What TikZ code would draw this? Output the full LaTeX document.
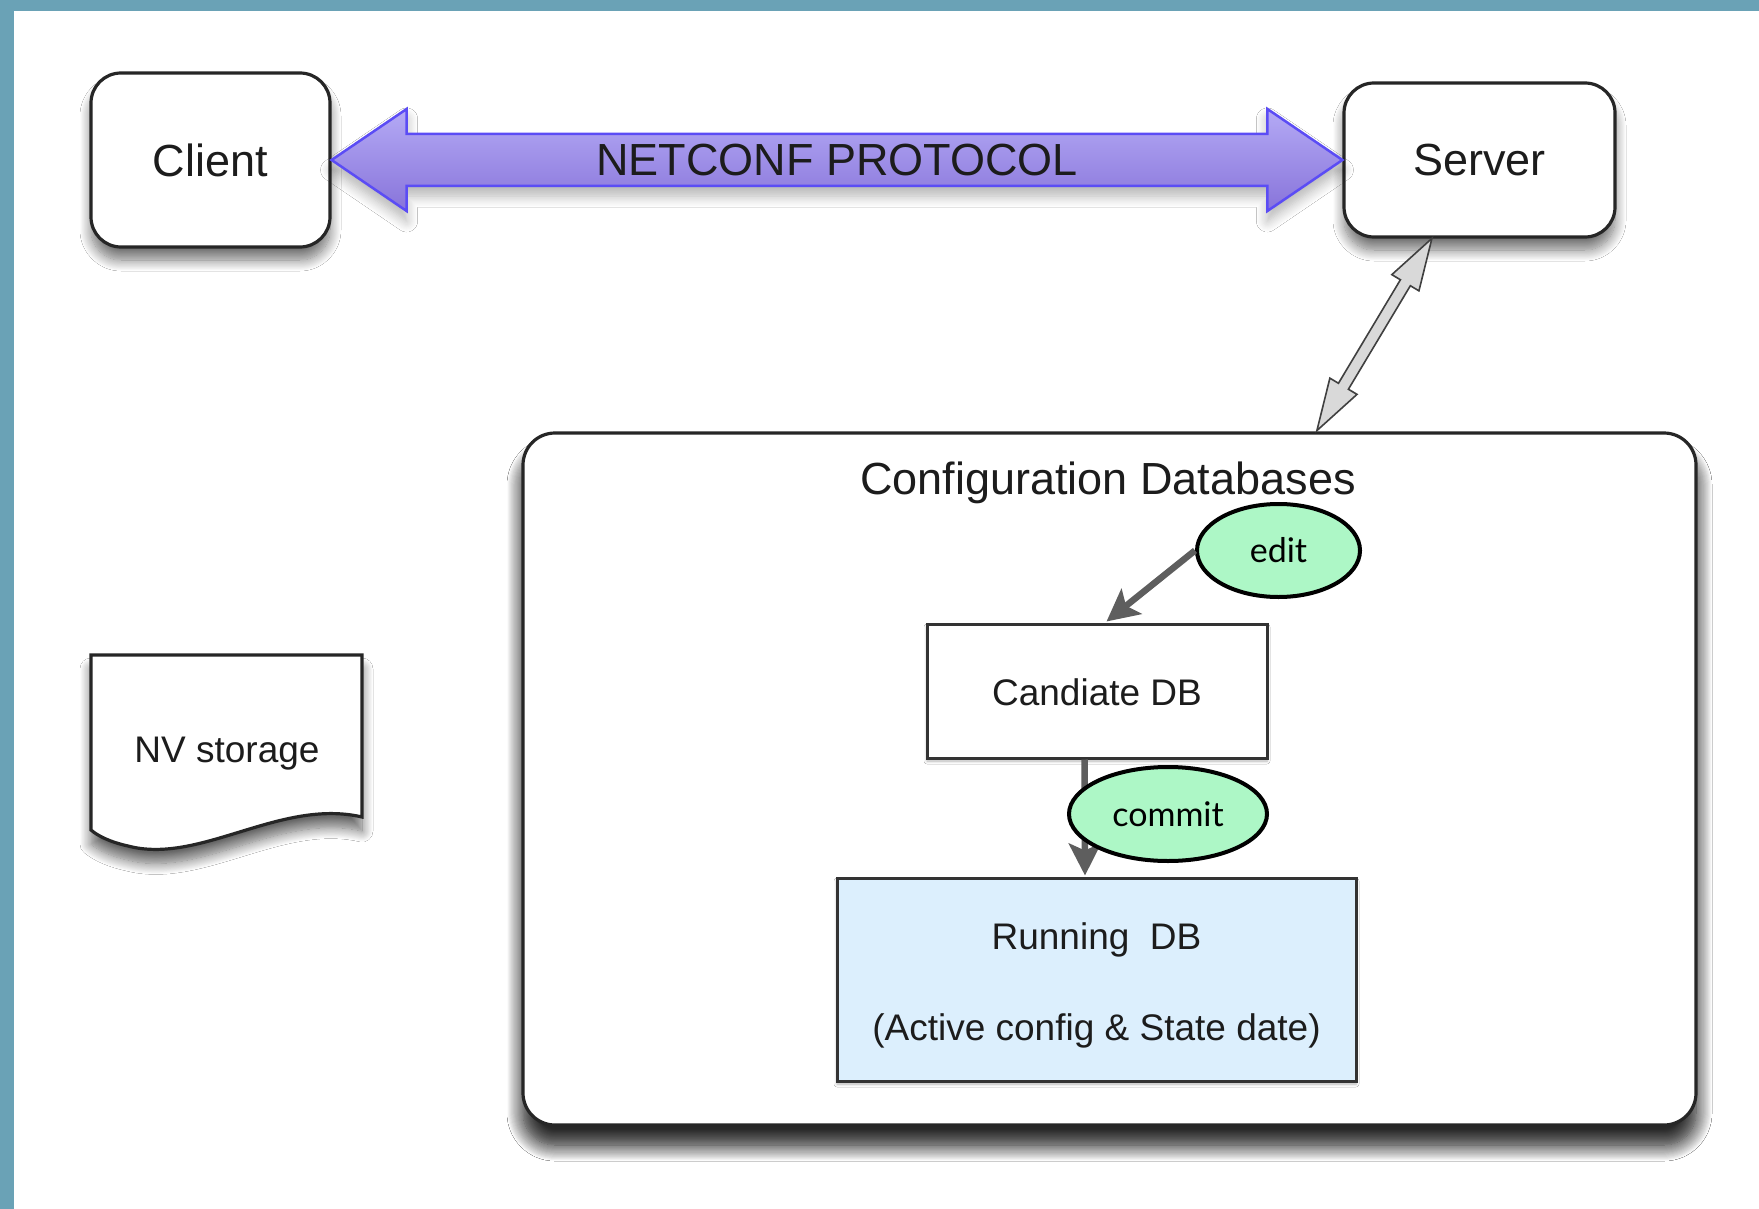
\documentclass[tikz,border=0pt]{standalone}
\usepackage{fontspec}
\setmainfont{Liberation Sans}
\newfontfamily\gillfont{Lato}
\usetikzlibrary{shapes.geometric,shapes.arrows,arrows.meta,calc,shadows.blur}
\definecolor{barcol}{HTML}{6AA2B6}
\definecolor{arrtop}{HTML}{B4AAF5}
\definecolor{arrbot}{HTML}{8874DA}
\definecolor{arrline}{HTML}{5B4CF5}
\definecolor{runfill}{HTML}{DCEFFD}
\definecolor{ellfill}{HTML}{ADF7C6}
\definecolor{dgray}{HTML}{5E5E5E}
\definecolor{txt}{HTML}{1C1C1C}
\tikzset{
  bigfont/.style={font=\fontsize{45}{54}\selectfont, text=txt},
  midfont/.style={font=\fontsize{37}{44}\selectfont, text=txt},
  rbox/.style={draw=black!85, line width=3.2pt, fill=white, rounded corners=30pt,
    bigfont, inner sep=0pt,
    blur shadow={shadow xshift=0pt, shadow yshift=-13pt, shadow opacity=55, shadow blur radius=11pt, shadow blur steps=14}},
  sbox/.style={draw=black!80, line width=3pt, inner sep=0pt, midfont,
    blur shadow={shadow xshift=0pt, shadow yshift=-3pt, shadow opacity=30, shadow blur radius=3pt, shadow blur steps=6}},
  oval/.style={ellipse, draw=black, line width=4pt, fill=ellfill, inner sep=0pt,
    font=\gillfont\fontsize{34}{40}\selectfont},
  darrow/.style={draw=dgray, line width=6.5pt, -{Stealth[length=32pt, width=32pt, inset=7pt]}},
  netarrow/.style={draw=arrline, line width=2.5pt, top color=arrtop, bottom color=arrbot,
    blur shadow={shadow xshift=0pt, shadow yshift=-10pt, shadow opacity=30, shadow blur radius=11pt, shadow blur steps=10}},
}
\begin{document}
\begin{tikzpicture}[x=1pt, y=-1pt]
\useasboundingbox (0,0) rectangle (1759,1209);
\fill[white] (0,0) rectangle (1759,1209);
\fill[barcol] (0,0) rectangle (14,1209);
\fill[barcol] (0,0) rectangle (1759,11);

% main boxes
\node[rbox, minimum width=239pt, minimum height=174pt] (client) at (210.5,160) {Client};
\node[rbox, minimum width=271pt, minimum height=154pt] (server) at (1479.5,160) {Server};
\node[rbox, rounded corners=32pt, minimum width=1173pt, minimum height=692pt,
  blur shadow={shadow xshift=0pt, shadow yshift=-20pt, shadow opacity=60, shadow blur radius=16pt, shadow blur steps=16}] (cfg) at (1109.5,779) {};
\node[bigfont, anchor=center] (cfgtitle) at (1108,483) {Configuration Databases};

\node[sbox, fill=white, minimum width=340pt, minimum height=134pt, text depth=0pt, text height=28pt] (cand) at (1097,691) {Candiate DB};
\node[sbox, fill=runfill, minimum width=519pt, minimum height=203pt, align=center,
  font=\fontsize{37}{91}\selectfont] (run) at (1096.5,979.5) {};
\node[midfont, align=center, font=\fontsize{37}{91}\selectfont] (runtext) at (1096.5,985) {Running\ \ DB\\(Active config \& State date)};

% NV storage
\path[draw=black!85, line width=3.2pt, fill=white,
  blur shadow={shadow xshift=0pt, shadow yshift=-14pt, shadow opacity=60, shadow blur radius=11pt, shadow blur steps=14}]
  (91,655) -- (362,655) -- (362,817) .. controls (280,798) and (200,865) .. (128,846) .. controls (110,842) and (98,836) .. (91,830) -- cycle;
\node[midfont] (nv) at (227,754) {NV storage};

% NETCONF arrow
\path[netarrow] (client.east) -- ++(75,-51) -- ++(0,25) -- ($(server.west)+(-75,-26)$) -- ++(0,-25) -- (server.west)
  -- ++(-75,51) -- ++(0,-25) -- ($(client.east)+(75,26)$) -- ++(0,25) -- cycle;
\node[bigfont] (proto) at ($(client.east)!0.5!(server.west)$) {NETCONF PROTOCOL};

% server <-> config db arrow
\coordinate (sa) at ($(server.south west)+(89,2)$);
\coordinate (sb) at ($(cfg.north west)+(796,-3)$);
\node[double arrow, draw=black!75, line width=1.6pt, fill=black!15, inner xsep=0pt, inner ysep=5pt,
  minimum height=224pt, minimum width=30pt, double arrow head extend=10pt, double arrow tip angle=34,
  rotate=59.1] (sarrow) at ($(sa)!0.5!(sb)$) {};

% edit / commit
\coordinate (edtip) at ($(cand.north west)+(181,-1)$);
\coordinate (cmstart) at ($(cand.south west)+(159,0)$);
\coordinate (cmtip) at ($(run.north west)+(249.5,-1)$);
\draw[darrow] (cmstart) -- (cmtip);
\node[oval, minimum width=198pt, minimum height=94pt] (commit) at (1168,814) {commit};
\node[oval, minimum width=163pt, minimum height=93pt] (edit) at (1278.5,550.5) {edit};
\draw[darrow] (edit.west) -- (edtip);
\end{tikzpicture}
\end{document}
